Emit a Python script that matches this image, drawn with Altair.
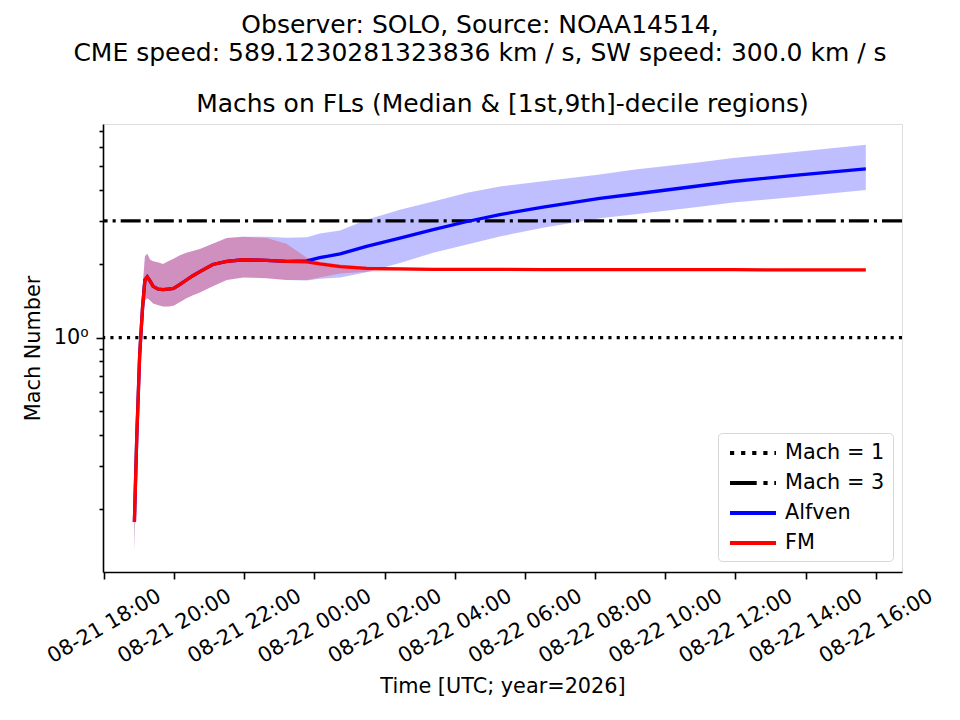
import altair as alt
import pandas as pd

# ---------------- data ----------------
TIMES = [
    "2026-08-21T18:52:00Z", "2026-08-21T18:56:00Z", "2026-08-21T19:01:00Z", "2026-08-21T19:06:00Z",
    "2026-08-21T19:10:00Z", "2026-08-21T19:14:00Z", "2026-08-21T19:19:00Z", "2026-08-21T19:24:00Z",
    "2026-08-21T19:32:00Z", "2026-08-21T19:41:00Z", "2026-08-21T19:50:00Z", "2026-08-21T19:59:00Z",
    "2026-08-21T20:10:00Z", "2026-08-21T20:21:00Z", "2026-08-21T20:32:00Z", "2026-08-21T20:44:00Z",
    "2026-08-21T21:06:00Z", "2026-08-21T21:30:00Z", "2026-08-21T21:58:00Z", "2026-08-21T22:38:00Z",
    "2026-08-21T23:12:00Z", "2026-08-21T23:47:00Z", "2026-08-22T00:09:00Z", "2026-08-22T00:44:00Z",
    "2026-08-22T01:29:00Z", "2026-08-22T02:26:00Z", "2026-08-22T03:23:00Z", "2026-08-22T04:21:00Z",
    "2026-08-22T05:17:00Z", "2026-08-22T06:31:00Z", "2026-08-22T08:08:00Z", "2026-08-22T09:05:00Z",
    "2026-08-22T10:59:00Z", "2026-08-22T11:56:00Z", "2026-08-22T13:50:00Z", "2026-08-22T15:43:00Z",
]
ALF_MED = [0.177, 0.39, 0.85, 1.34, 1.72, 1.77, 1.70, 1.62, 1.58, 1.57, 1.58, 1.59,
           1.65, 1.72, 1.79, 1.86, 1.99, 2.05, 2.08, 2.07, 2.05, 2.06, 2.12, 2.20,
           2.36, 2.55, 2.76, 2.98, 3.18, 3.41, 3.70, 3.85, 4.17, 4.34, 4.62, 4.89]
ALF_LO = [0.135, 0.32, 0.72, 1.10, 1.42, 1.45, 1.42, 1.38, 1.36, 1.34, 1.34, 1.35,
          1.40, 1.45, 1.49, 1.53, 1.62, 1.72, 1.76, 1.75, 1.72, 1.71, 1.74, 1.76,
          1.85, 2.02, 2.22, 2.40, 2.59, 2.81, 3.07, 3.18, 3.42, 3.56, 3.77, 4.01]
ALF_HI = [0.19, 0.42, 1.00, 1.60, 2.15, 2.20, 2.08, 2.05, 2.03, 2.00, 2.05, 2.10,
          2.17, 2.22, 2.26, 2.30, 2.42, 2.55, 2.58, 2.58, 2.56, 2.57, 2.66, 2.74,
          3.03, 3.33, 3.60, 3.90, 4.14, 4.35, 4.64, 4.85, 5.20, 5.41, 5.76, 6.13]
FM_MED = [0.177, 0.39, 0.85, 1.34, 1.72, 1.77, 1.70, 1.62, 1.58, 1.57, 1.58, 1.59,
          1.65, 1.72, 1.79, 1.86, 1.99, 2.05, 2.08, 2.07, 2.05, 2.04, 2.00, 1.95,
          1.92, 1.91, 1.90, 1.90, 1.90, 1.895, 1.895, 1.895, 1.895, 1.895, 1.89, 1.89]
FM_LO = [0.135, 0.32, 0.72, 1.10, 1.42, 1.45, 1.42, 1.38, 1.36, 1.34, 1.34, 1.35,
         1.40, 1.45, 1.49, 1.53, 1.62, 1.72, 1.76, 1.75, 1.72, 1.72, 1.76, 1.83,
         1.86, 1.88, 1.875, 1.875, 1.875, 1.87, 1.87, 1.87, 1.87, 1.87, 1.865, 1.865]
FM_HI = [0.19, 0.42, 1.00, 1.60, 2.15, 2.20, 2.08, 2.05, 2.03, 2.00, 2.05, 2.10,
         2.17, 2.22, 2.26, 2.30, 2.42, 2.55, 2.58, 2.55, 2.42, 2.12, 2.04, 1.99,
         1.95, 1.93, 1.92, 1.92, 1.92, 1.915, 1.915, 1.915, 1.915, 1.915, 1.91, 1.91]

REF_NAMES = ["Mach = 1", "Mach = 3"]
REF_VALUES = [1, 3]
SERIES = ["Mach = 1", "Mach = 3", "Alfven", "FM"]
SERIES_COLORS = ["black", "black", "blue", "red"]
LEGEND_DASH = [[4.2, 6.9], [26.7, 6.7, 4.2, 6.7], [1, 0], [1, 0]]
DOT_DASH = [3.1, 5.2]
DASHDOT_DASH = [20, 5, 3.1, 5]

X_TICKS = ["2026-08-21T18:00:00Z", "2026-08-21T20:00:00Z", "2026-08-21T22:00:00Z",
           "2026-08-22T00:00:00Z", "2026-08-22T02:00:00Z", "2026-08-22T04:00:00Z",
           "2026-08-22T06:00:00Z", "2026-08-22T08:00:00Z", "2026-08-22T10:00:00Z",
           "2026-08-22T12:00:00Z", "2026-08-22T14:00:00Z", "2026-08-22T16:00:00Z"]
X_DOMAIN = ["2026-08-21T17:58:17Z", "2026-08-22T16:44:54Z"]
Y_DOMAIN = [0.1106, 7.45]
Y_TICKS = [0.2, 0.3, 0.4, 0.5, 0.6, 0.7, 0.8, 0.9, 1, 2, 3, 4, 5, 6, 7]

SUPTITLE = ["Observer: SOLO, Source: NOAA14514,",
            "CME speed: 589.1230281323836 km / s, SW speed: 300.0 km / s"]
AX_TITLE = "Machs on FLs (Median & [1st,9th]-decile regions)"

FONT = "DejaVu Sans"
W, H = 799, 448

# ---------------- frames ----------------
alf = pd.DataFrame({"time": TIMES, "med": ALF_MED, "lo": ALF_LO, "hi": ALF_HI, "series": "Alfven"})
fm = pd.DataFrame({"time": TIMES, "med": FM_MED, "lo": FM_LO, "hi": FM_HI, "series": "FM"})
refs = pd.DataFrame({"series": REF_NAMES, "value": REF_VALUES})
ttl = pd.DataFrame({"t": [AX_TITLE]})

tick_ms = [int(pd.Timestamp(t).value // 10**6) for t in X_TICKS]
dom_ms = [int(pd.Timestamp(t).value // 10**6) for t in X_DOMAIN]

x_enc = alt.X(
    "time:T",
    scale=alt.Scale(type="utc", domain=dom_ms, nice=False),
    axis=alt.Axis(
        values=tick_ms, labelExpr="utcFormat(datum.value, '%m-%d %H:%M')",
        title="Time [UTC; year=2026]", titleFont=FONT, titleFontSize=20.8,
        titleFontWeight="normal", titleColor="black", titleBaseline="alphabetic",
        titleY=120.5,
        labelFont=FONT, labelFontSize=20.8, labelColor="black", labelAngle=-30,
        labelAlign="center", labelBaseline="middle", labelPadding=47,
        labelOverlap=False, labelFlush=False, labelBound=False,
        tickSize=7, tickWidth=1.6, tickColor="black",
        domainColor="black", domainWidth=1.6, grid=False,
    ),
)

y_scale = alt.Scale(type="log", domain=Y_DOMAIN, nice=False)
y_axis = alt.Axis(
    values=Y_TICKS, labelExpr="datum.value == 1 ? '10⁰' : ''",
    title="Mach Number", titleFont=FONT, titleFontSize=20.8, titleFontWeight="normal",
    titleColor="black", titleAngle=270, titleBaseline="alphabetic", titleAlign="center",
    titleX=-63.5, titleY=H / 2,
    labelFont=FONT, labelFontSize=20.8, labelColor="black", labelPadding=8,
    labelOverlap=False, labelFlush=False, labelBound=False,
    tickSize={"condition": {"test": "datum.value == 1", "value": 7}, "value": 4},
    tickWidth=1.6, tickColor="black",
    domainColor="black", domainWidth=1.6, grid=False,
)

legend = alt.Legend(
    title=None, orient="none", legendX=615, legendY=309,
    symbolType="M-2.3,0H2.3", symbolSize=400, symbolStrokeWidth=4, symbolOffset=15,
    symbolOpacity=1,
    labelFont=FONT, labelFontSize=20.8, labelColor="black", labelOffset=20, labelLimit=300,
    padding=8, rowPadding=8, strokeColor="#d6d6d6", fillColor="white", cornerRadius=4,
)
color_enc = alt.Color("series:N", scale=alt.Scale(domain=SERIES, range=SERIES_COLORS), legend=legend)
dash_enc = alt.StrokeDash("series:N", scale=alt.Scale(domain=SERIES, range=LEGEND_DASH), legend=legend)

band_a = alt.Chart(alf).mark_area(color="blue", opacity=0.25).encode(
    x=x_enc, y=alt.Y("lo:Q", scale=y_scale, axis=y_axis), y2="hi:Q")
band_f = alt.Chart(fm).mark_area(color="red", opacity=0.25).encode(
    x="time:T", y=alt.Y("lo:Q"), y2="hi:Q")

rule1 = alt.Chart(refs[refs.series == "Mach = 1"]).mark_rule(
    strokeWidth=3.2, color="black", strokeDash=DOT_DASH).encode(y=alt.Y("value:Q"))
rule3 = alt.Chart(refs[refs.series == "Mach = 3"]).mark_rule(
    strokeWidth=3.2, color="black", strokeDash=DASHDOT_DASH).encode(y=alt.Y("value:Q"))

line_a = alt.Chart(alf).mark_line(strokeWidth=3.3, color="blue").encode(x="time:T", y="med:Q")
line_f = alt.Chart(fm).mark_line(strokeWidth=3.3, color="red").encode(x="time:T", y="med:Q")

# invisible layer that only carries the legend
legend_layer = alt.Chart(refs).mark_rule(opacity=0).encode(
    y=alt.Y("value:Q"), color=color_enc, strokeDash=dash_enc)

ax_title = alt.Chart(ttl).mark_text(
    font=FONT, fontSize=25, align="center", baseline="alphabetic", color="black"
).encode(x=alt.value(W / 2), y=alt.value(-12.3), text="t:N")

chart = alt.layer(band_a, band_f, rule1, rule3, line_a, line_f, legend_layer, ax_title).properties(
    width=W, height=H,
    title=alt.TitleParams(
        text=SUPTITLE, font=FONT, fontSize=25, fontWeight="normal", color="black",
        lineHeight=27.7, anchor="middle", frame="group", dx=-22.5, offset=26,
    ),
    autosize=alt.AutoSizeParams(type="none"),
    padding={"left": 95, "top": 116, "right": 50, "bottom": 140},
).configure_view(stroke="black", strokeWidth=1.6).configure(background="white")

chart.save("out.html", embed_options={"renderer": "svg", "actions": False})
